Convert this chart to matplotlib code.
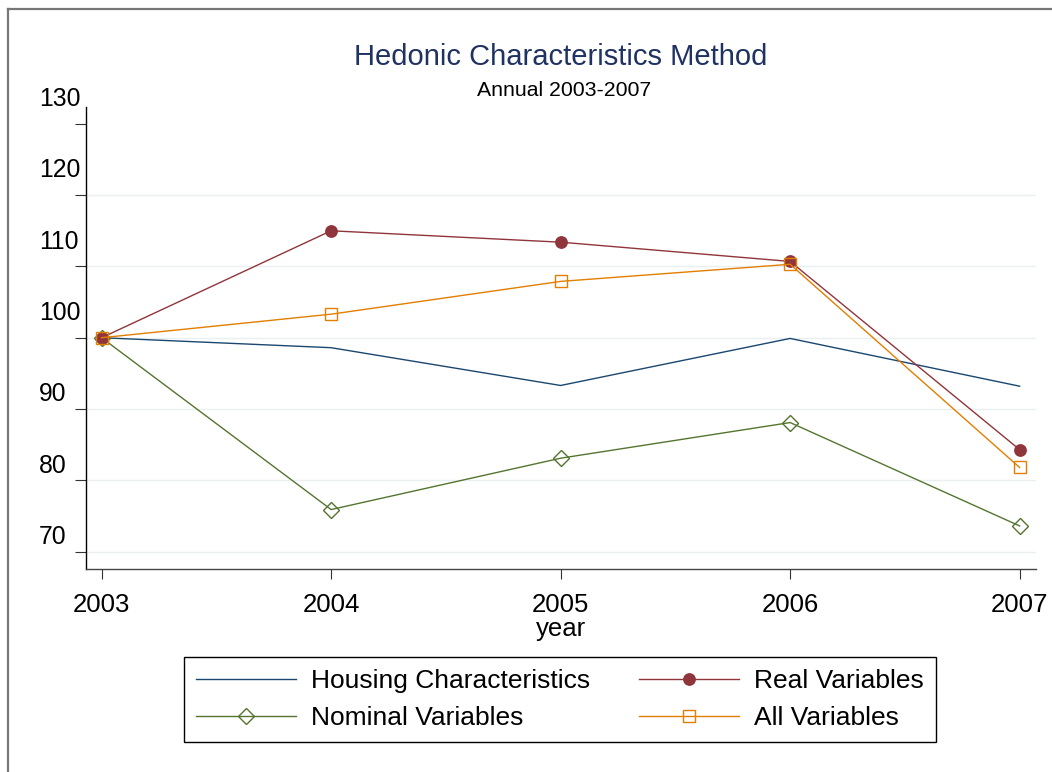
import matplotlib
matplotlib.use("Agg")
import matplotlib.pyplot as plt
from matplotlib.lines import Line2D

plt.rcParams["font.family"] = ["Liberation Sans", "DejaVu Sans"]

# Index values (2003 = 100)
years = [2003, 2004, 2005, 2006, 2007]
housing = [100.0, 98.6, 93.3, 99.9, 93.2]
real_vars = [100.0, 115.0, 113.4, 110.7, 84.3]
nominal_vars = [100.0, 75.9, 83.1, 88.1, 73.6]
all_vars = [100.0, 103.3, 107.9, 110.3, 81.8]

series_names = ["Housing Characteristics", "Real Variables",
                "Nominal Variables", "All Variables"]
yticks = [70, 80, 90, 100, 110, 120, 130]
grid_values = [70, 80, 90, 100, 110, 120]

title = "Hedonic Characteristics Method"
subtitle = "Annual 2003-2007"
xlabel = "year"

navy = "#1a476f"
maroon = "#90353b"
green = "#55752f"
orange = "#e37e00"

W, H = 1052, 772
fig = plt.figure(figsize=(W / 100, H / 100), dpi=100)
fig.patch.set_facecolor("white")

ax_left, ax_right, ax_top, ax_bottom = 86, 1035.7, 107, 569
ax = fig.add_axes([ax_left / W, 1 - ax_bottom / H,
                   (ax_right - ax_left) / W, (ax_bottom - ax_top) / H])

ax.set_xlim(2002.932, 2007.07)
ax.set_ylim(67.56, 132.36)

for g in grid_values:
    ax.axhline(g, color="#eaf0f2", lw=1.0, zorder=0)

lw = 1.0
l_h, = ax.plot(years, housing, color=navy, lw=lw, zorder=2,
               label=series_names[0])
l_r, = ax.plot(years, real_vars, color=maroon, lw=lw, marker="o", ms=8.2,
               mfc=maroon, mec=maroon, zorder=3, label=series_names[1])
l_n, = ax.plot(years, nominal_vars, color=green, lw=lw, marker="D", ms=8.5,
               mfc="none", mec=green, mew=1.0, zorder=2.5,
               label=series_names[2])
l_a, = ax.plot(years, all_vars, color=orange, lw=lw, marker="s", ms=8.4,
               mfc="none", mec=orange, mew=1.0, zorder=4,
               label=series_names[3])

for side in ("top", "right"):
    ax.spines[side].set_visible(False)
ax.spines["left"].set_color("black")
ax.spines["left"].set_linewidth(1.0)
ax.spines["bottom"].set_color("#444444")
ax.spines["bottom"].set_linewidth(1.0)

ax.set_xticks(years)
ax.set_xticklabels([str(y) for y in years])
ax.tick_params(axis="x", length=7.5, width=0.8, color="#333333",
               labelsize=18.5, pad=10)

ax.set_yticks(yticks)
ax.tick_params(axis="y", length=8, width=0.8, color="#333333",
               labelleft=False)
# Value labels sit to the upper left of their tick marks
for v in yticks:
    txt = str(v)
    dy = 24.7 if len(txt) == 3 else 14.7
    ax.annotate(txt, xy=(0, v), xycoords=("axes fraction", "data"),
                xytext=(39 - ax_left, dy), textcoords="offset pixels",
                ha="left", va="center", fontsize=17.8, color="black",
                annotation_clip=False)

ax.set_xlabel(xlabel, fontsize=18.5, labelpad=0)

fig.text((ax_left + ax_right) / 2 / W, 1 - 57 / H, title,
         ha="center", va="center", fontsize=21, color="#1f3262")
fig.text(564 / W, 1 - 91 / H, subtitle, ha="center", va="center",
         fontsize=15.3, color="black")

leg = fig.legend([l_h, l_n, l_r, l_a],
                 [series_names[0], series_names[2],
                  series_names[1], series_names[3]],
                 ncol=2, loc="center",
                 bbox_to_anchor=(560 / W, 1 - 699.5 / H),
                 fontsize=19, frameon=True, fancybox=False,
                 edgecolor="black", framealpha=1,
                 handlelength=3.8, handletextpad=0.57,
                 columnspacing=1.85, labelspacing=0.5, borderpad=0.45)
leg.get_frame().set_linewidth(1.0)

# Frame lines along the top and left edges of the figure
fig.add_artist(Line2D([7.5 / W, 1], [1 - 8.5 / H, 1 - 8.5 / H],
                      transform=fig.transFigure, color="#777777", lw=1.6))
fig.add_artist(Line2D([7.5 / W, 7.5 / W], [0, 1 - 8.5 / H],
                      transform=fig.transFigure, color="#777777", lw=1.6))

fig.savefig("out.png", dpi=100, facecolor="white")
